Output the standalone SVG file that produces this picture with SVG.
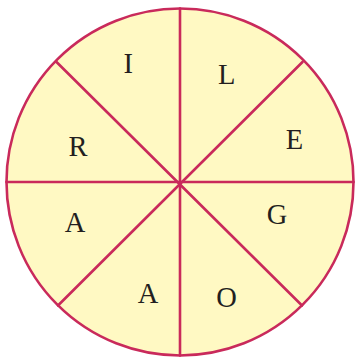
<svg xmlns="http://www.w3.org/2000/svg" width="355" height="359" viewBox="0 0 355 359">
<style>
.ln{stroke:#C92A5B;stroke-width:2.6;fill:none;stroke-linecap:round}
.lt{font-family:"Liberation Serif","Times New Roman",serif;font-size:28.5px;fill:#231F20;text-anchor:middle}
</style>
<g id="wheel">
<circle cx="180" cy="182" r="173.5" class="ln" style="fill:#FFF9C3"/>
</g>
<g id="connectors">
<line class="ln" x1="180" y1="8.5" x2="180" y2="355.5"/>
<line class="ln" x1="6.5" y1="182" x2="353.5" y2="182"/>
<line class="ln" x1="56" y1="61.5" x2="302" y2="305.5"/>
<line class="ln" x1="302.5" y1="62" x2="58" y2="305.5"/>
</g>
<g id="n-I"><text class="lt" x="128.3" y="73">I</text></g>
<g id="n-L"><text class="lt" x="226.7" y="84">L</text></g>
<g id="n-E"><text class="lt" x="294.5" y="149">E</text></g>
<g id="n-R"><text class="lt" x="78" y="156">R</text></g>
<g id="n-A1"><text class="lt" x="75" y="232">A</text></g>
<g id="n-G"><text class="lt" x="277" y="224">G</text></g>
<g id="n-A2"><text class="lt" x="148" y="303.3">A</text></g>
<g id="n-O"><text class="lt" x="226.5" y="307">O</text></g>
</svg>
